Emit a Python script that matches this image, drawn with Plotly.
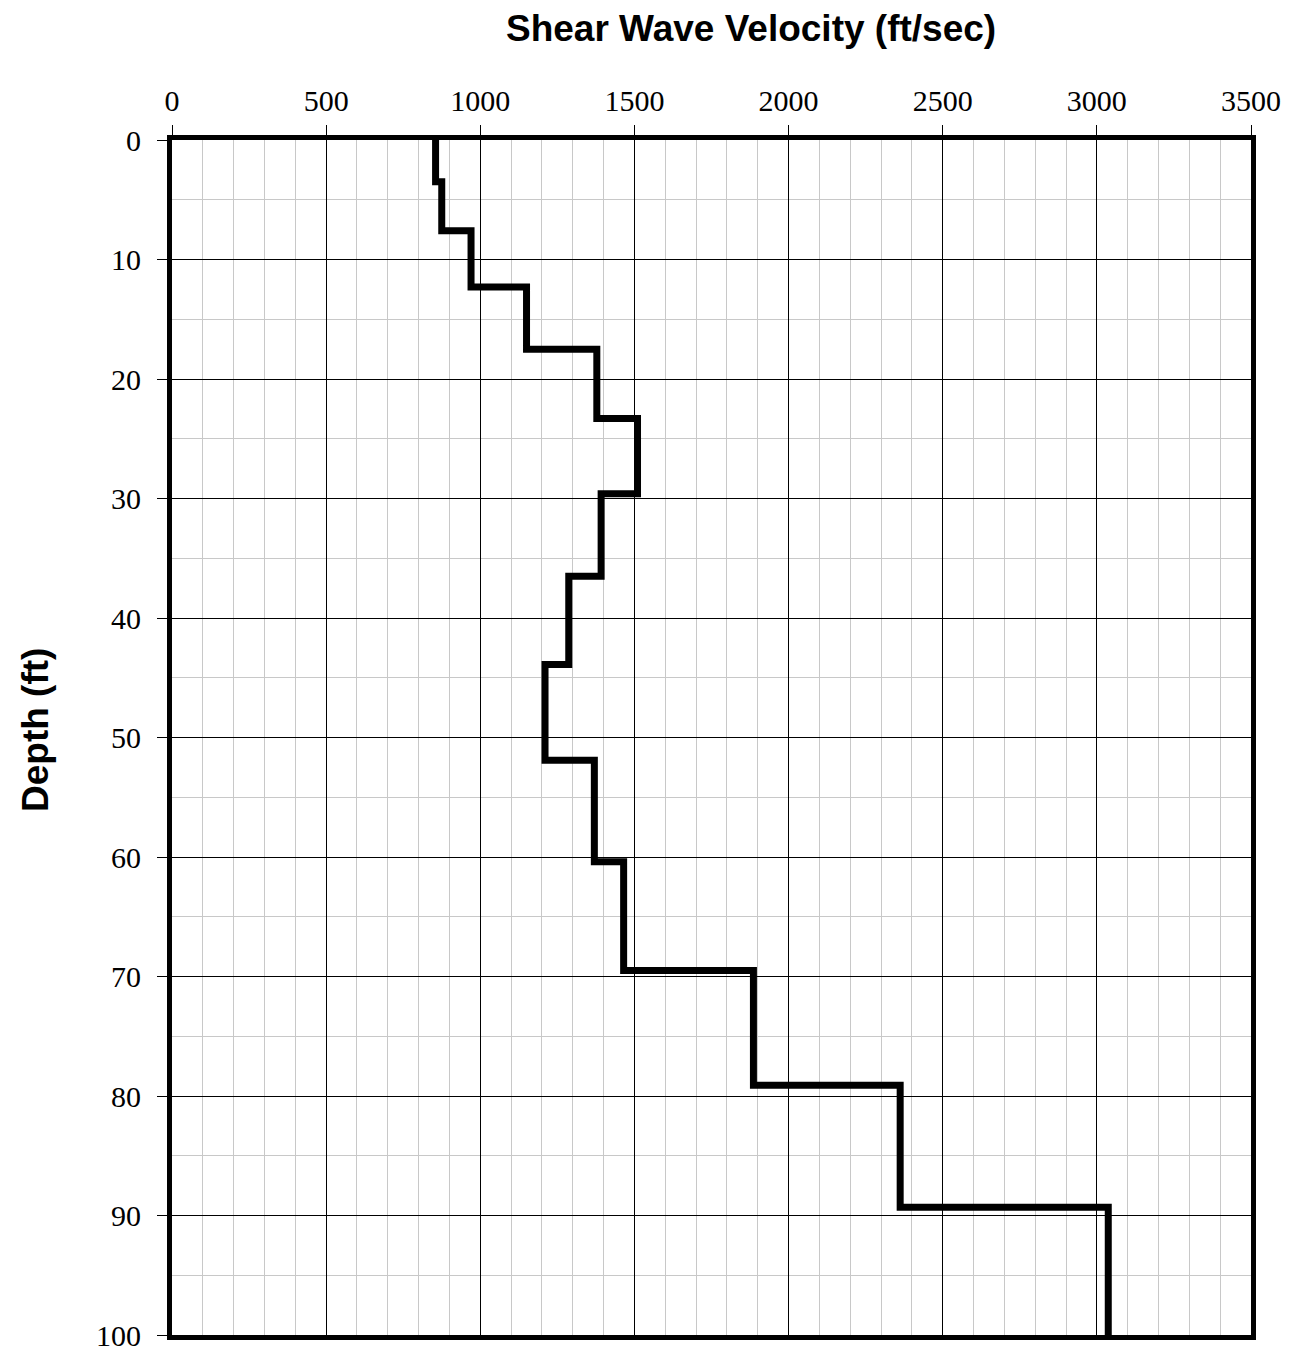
import plotly.graph_objects as go

# Layer data: velocity (ft/sec) for each layer, and layer top depths (ft)
velocity = [855, 875, 970, 1150, 1378, 1510, 1392, 1287, 1210, 1370, 1465, 1886, 2362, 3037]
layer_top = [0, 3.5, 7.6, 12.3, 17.5, 23.3, 29.6, 36.5, 43.9, 51.9, 60.4, 69.5, 79.1, 89.3]
max_depth = 100

x_ticks = [0, 500, 1000, 1500, 2000, 2500, 3000, 3500]
y_ticks = [0, 10, 20, 30, 40, 50, 60, 70, 80, 90, 100]

xs = velocity + [velocity[-1]]
ys = layer_top + [max_depth]

fig = go.Figure()
fig.add_trace(go.Scatter(
    x=xs, y=ys, mode="lines", line=dict(color="black", width=7, shape="vh"),
    showlegend=False, hoverinfo="skip"
))

tickfont = dict(family="Liberation Serif, Times New Roman, serif", size=30, color="black")

L, R, T, B = 172, 46, 140, 14
pw = 1297 - L - R
ph = 1349 - T - B

fig.update_layout(
    width=1297, height=1349,
    margin=dict(l=L, r=R, t=T, b=B, autoexpand=False),
    paper_bgcolor="white", plot_bgcolor="white",
    xaxis=dict(
        side="top", range=[0, 3500], tickvals=x_ticks, ticktext=[str(v) for v in x_ticks],
        showgrid=True, gridcolor="black", gridwidth=1,
        minor=dict(dtick=100, showgrid=True, gridcolor="#c8c8c8", gridwidth=1),
        showline=True, linecolor="black", linewidth=5, mirror=True,
        ticks="outside", ticklen=10, tickwidth=1, tickcolor="black",
        tickfont=tickfont, zeroline=False, ticklabelstandoff=2, automargin=False,
        ticklabeloverflow="allow",
    ),
    yaxis=dict(
        range=[100, 0], tickvals=y_ticks, ticktext=[str(v) for v in y_ticks],
        showgrid=True, gridcolor="black", gridwidth=1,
        minor=dict(dtick=5, showgrid=True, gridcolor="#c8c8c8", gridwidth=1),
        showline=True, linecolor="black", linewidth=5, mirror=True,
        ticks="outside", ticklen=10, tickwidth=1, tickcolor="black",
        tickfont=tickfont, zeroline=False, ticklabelstandoff=10, automargin=False,
        ticklabeloverflow="allow",
    ),
    annotations=[
        dict(text="<b>Shear Wave Velocity (ft/sec)</b>", xref="paper", yref="paper",
             x=(751 - L) / pw, y=(1349 - B - 29) / ph, xanchor="center", yanchor="middle",
             showarrow=False, font=dict(family="Liberation Sans, Arial, sans-serif", size=37, color="black")),
        dict(text="<b>Depth (ft)</b>", xref="paper", yref="paper", textangle=-90,
             x=(35 - L) / pw, y=(1349 - B - 730) / ph, xanchor="center", yanchor="middle",
             showarrow=False, font=dict(family="Liberation Sans, Arial, sans-serif", size=37, color="black")),
    ],
)

fig.write_html("out.html")
